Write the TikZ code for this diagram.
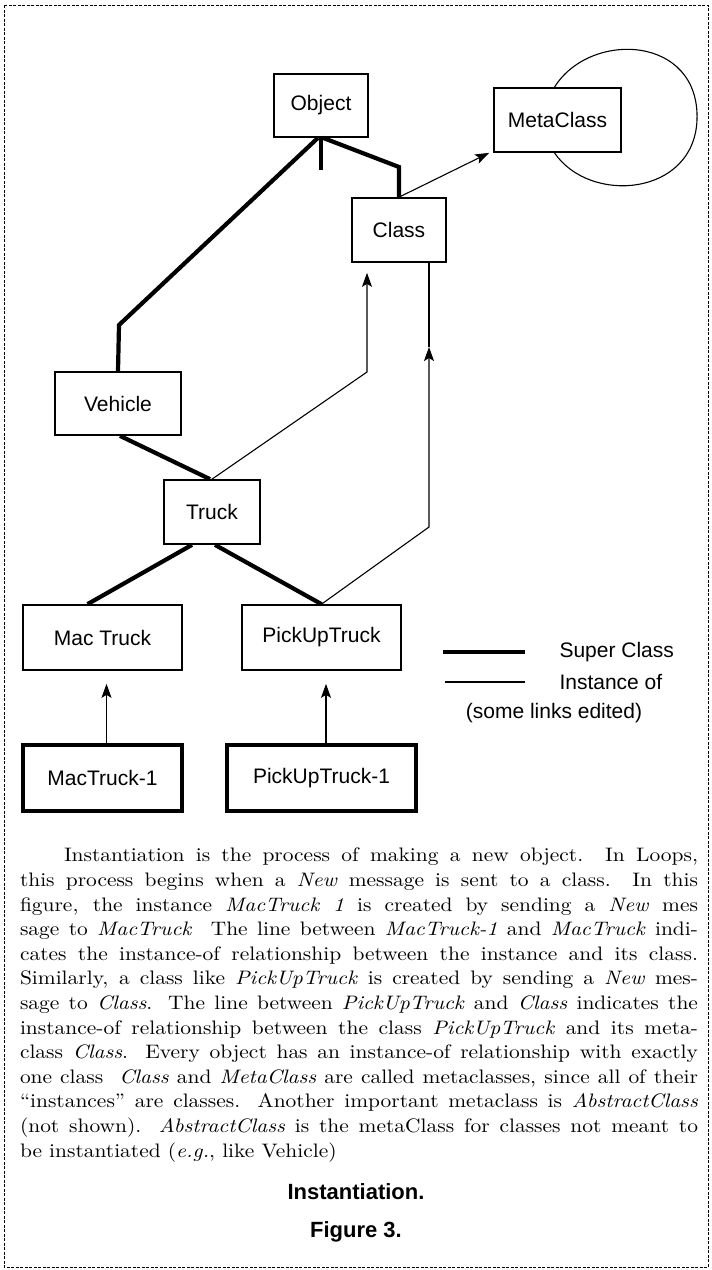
\documentclass[tikz,border=0pt]{standalone}
\usepackage{fontspec}
\setmainfont{lmroman10-regular}[Extension=.otf, ItalicFont=lmroman10-italic, BoldFont=lmroman10-bold, FakeStretch=1.1]
\setsansfont{Liberation Sans}
\usetikzlibrary{arrows.meta,positioning}
\newcommand\labelfont{\sffamily\fontsize{21}{25}\selectfont}
\newcommand\capfont{\sffamily\bfseries\fontsize{22}{26}\selectfont}
\newcommand\parafont{\fontsize{19.5}{24.6}\selectfont}
\tikzset{clsbox/.style={draw, line width=1.7pt, inner sep=0pt, font=\labelfont},
         instbox/.style={clsbox, line width=3.2pt},
         supline/.style={line width=4.2pt},
         instof/.style={line width=1.1pt},
         instarrow/.style={instof, -{Stealth[length=14pt,width=10pt,inset=3pt]}}}

\begin{document}
\begin{tikzpicture}[x=1pt, y=-1pt]
    \useasboundingbox (0,0) rectangle (712,1270);
    \draw[line width=0.8pt, dash pattern=on 3pt off 1.5pt] (4,5) rectangle (708,1267);

    % classes
    \node[clsbox, minimum width=94pt, minimum height=63pt] (obj) at (321,105.5) {Object};
    \node[clsbox, minimum width=127pt, minimum height=64pt] (mc) at (557.5,120) {MetaClass};
    \node[clsbox, minimum width=94pt, minimum height=64pt] (cl) at (399,230) {Class};
    \node[clsbox, minimum width=126pt, minimum height=63pt] (veh) at (118,403.5) {Vehicle};
    \node[clsbox, minimum width=96pt, minimum height=64pt] (tr) at (212,512) {Truck};
    \node[clsbox, minimum width=159pt, minimum height=65pt] (mt) at (102.5,637.5) {Mac Truck};
    \node[clsbox, minimum width=159pt, minimum height=65pt] (pt) at (321.5,637.5) {PickUpTruck};
    % instances
    \node[instbox, minimum width=159pt, minimum height=66pt] (mt1) at (102.5,778) {MacTruck-1};
    \node[instbox, minimum width=189pt, minimum height=66pt] (pt1) at (321.5,778) {PickUpTruck-1};

    \coordinate (ov) at (119,325);
    \coordinate (oc) at (399,167);
    \coordinate (stub) at (321,170);
    \coordinate (tc) at (367,372);
    \coordinate (pc) at (429,527);
    \coordinate (pcm) at (429,347);

    % super class links
    \draw[supline] ([xshift=-3pt]obj.south) -- (ov) -- (veh.north);
    \draw[supline] ([xshift=2pt]obj.south) -- (oc) -- (cl.north);
    \draw[supline] (obj.south) -- (stub);
    \draw[supline] ([xshift=2pt]veh.south) -- ([xshift=-2pt]tr.north);
    \draw[supline] ([xshift=-20pt]tr.south) -- ([xshift=-15pt]mt.north);
    \draw[supline] ([xshift=3pt]tr.south) -- (pt.north);

    % instance-of links
    \draw[instarrow] (cl.north) -- ([xshift=-4pt]mc.south west);
    \draw[instof] ([xshift=-3pt]mc.north) .. controls (590,30) and (700,35) .. (697,120)
        .. controls (694,196) and (590,205) .. ([xshift=-3pt]mc.south);
    \draw[instarrow, shorten >=10pt] (tr.north) -- (tc) -- ([xshift=-32pt]cl.south);
    \draw[instarrow] (pt.north) -- (pc) -- (pcm);
    \draw[instof] (pcm) -- ([xshift=30pt]cl.south);
    \draw[instarrow, shorten >=13pt] ([xshift=4pt]mt1.north) -- ([xshift=4pt]mt.south);
    \draw[instarrow, shorten >=13pt] ([xshift=4.5pt]pt1.north) -- ([xshift=4.5pt]pt.south);

    % legend
    \node[font=\labelfont, anchor=west] (lsup) at (556,652) {Super Class};
    \node[font=\labelfont, anchor=west] (linst) at (556,682) {Instance of};
    \node[font=\labelfont] (lnote) at (554,713) {(some links edited)};
    \draw[supline] ([xshift=-31pt]lsup.west) -- ++(-82,0);
    \draw[instof] ([xshift=-31pt]linst.west) -- ++(-80,0);

    % text
    \node[anchor=north, text width=678pt, align=justify, inner sep=0pt, font=\parafont] (txt) at (359,848)
    {\tolerance=10000\hbadness=10000
    \hspace*{44pt}Instantiation is the process of making a new object. In Loops,\linebreak
    this process begins when a \textit{New} message is sent to a class. In this\linebreak
    figure, the instance \textit{MacTruck 1} is created by sending a \textit{New} mes\linebreak
    sage to \textit{MacTruck}\ \ The line between \textit{MacTruck-1} and \textit{MacTruck} indi-\linebreak
    cates the instance-of relationship between the instance and its class.\linebreak
    Similarly, a class like \textit{PickUpTruck} is created by sending a \textit{New} mes-\linebreak
    sage to \textit{Class}. The line between \textit{PickUpTruck} and \textit{Class} indicates the\linebreak
    instance-of relationship between the class \textit{PickUpTruck} and its meta-\linebreak
    class \textit{Class}. Every object has an instance-of relationship with exactly\linebreak
    one class\ \ \textit{Class} and \textit{MetaClass} are called metaclasses, since all of their\linebreak
    “instances” are classes. Another important metaclass is \textit{AbstractClass}\linebreak
    (not shown). \textit{AbstractClass} is the metaClass for classes not meant to\linebreak
    be instantiated (\textit{e.g.}, like Vehicle)};

    \node[font=\capfont] (cap) at (356,1192) {Instantiation.};
    \node[font=\capfont] (fig) at (356,1232) {Figure 3.};
\end{tikzpicture}
\end{document}
